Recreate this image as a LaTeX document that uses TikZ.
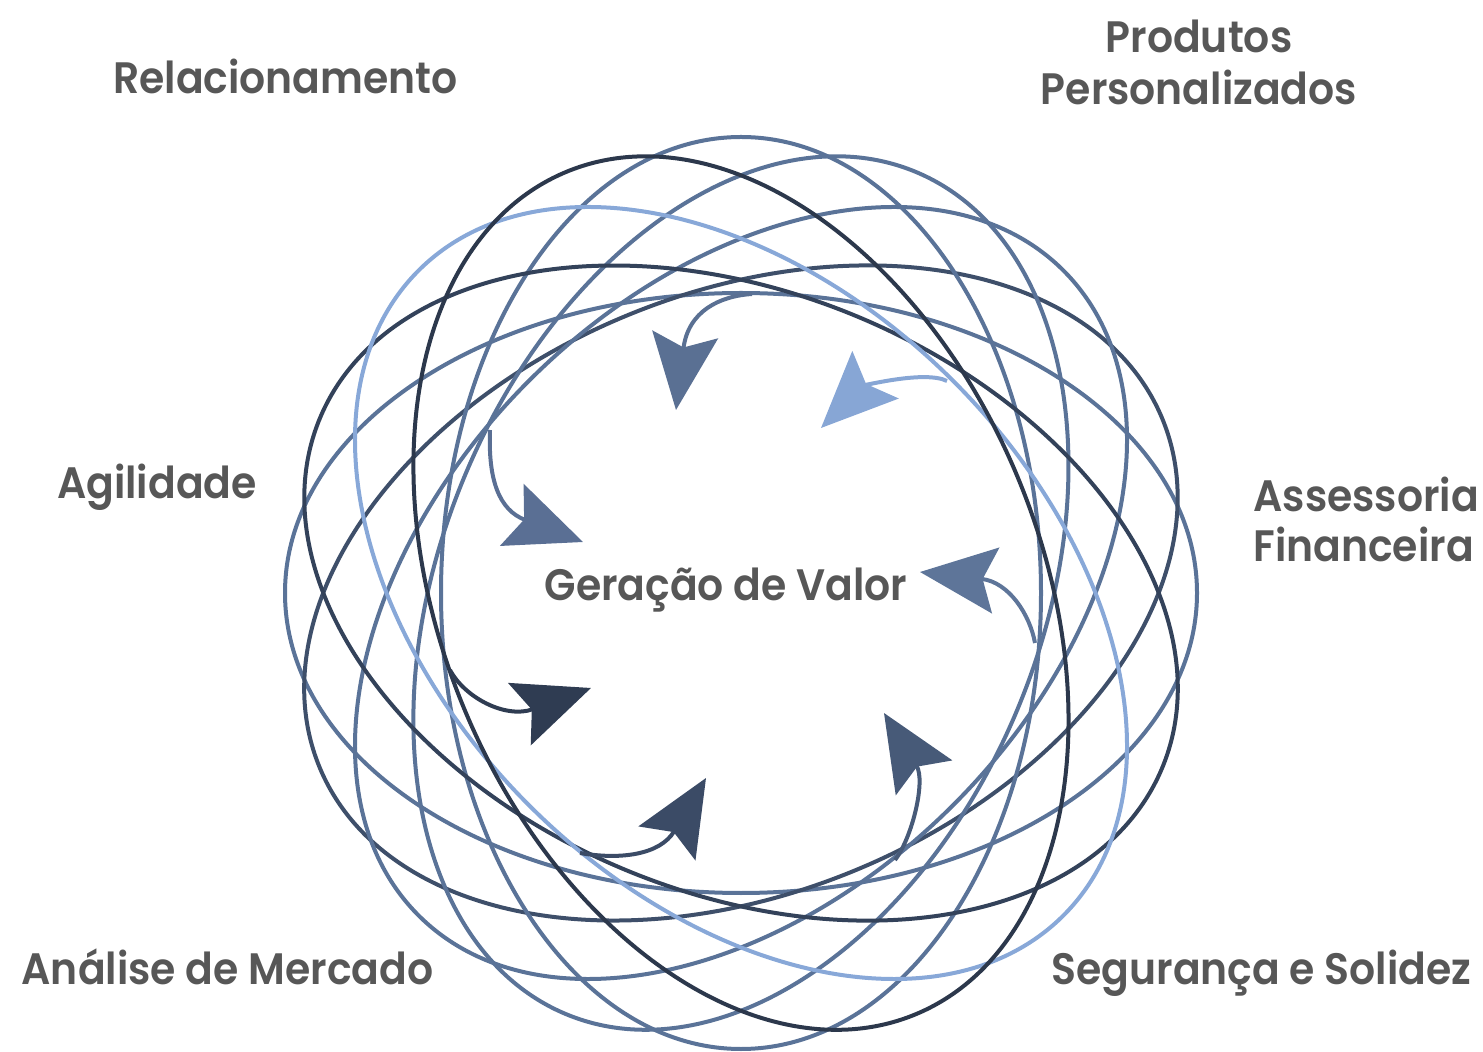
\documentclass[tikz,border=0pt]{standalone}
\usepackage{fontspec}
\newfontfamily\labfont{Poppins SemiBold}[FakeStretch=0.93]
\usetikzlibrary{arrows.meta}
\definecolor{eBlue}{HTML}{5A7398}
\definecolor{eMid}{HTML}{3E4F6A}
\definecolor{eNavy}{HTML}{2C384C}
\definecolor{eDark}{HTML}{33425A}
\definecolor{eLight}{HTML}{88A8D8}
\definecolor{aTop}{HTML}{5A7093}
\definecolor{aLight}{HTML}{87A6D5}
\definecolor{aRight}{HTML}{5E7599}
\definecolor{aLowR}{HTML}{475A78}
\definecolor{aBot}{HTML}{3B4B66}
\definecolor{aLowL}{HTML}{2F3C52}
\definecolor{aLeft}{HTML}{5A6F94}
\definecolor{txt}{HTML}{575757}
\begin{document}
\begin{tikzpicture}[x=0.5pt,y=-0.5pt,
  ring/.style={line width=2pt},
  arr/.style={line width=2pt,-{Stealth[length=38pt,width=33pt,inset=6.5pt]}},
  lab/.style={text=txt,font=\labfont\fontsize{22}{26}\selectfont,inner sep=0pt,anchor=base}]
\useasboundingbox (0,0) rectangle (1483,1052);
\coordinate (C) at (741,593);
\foreach \ang/\col in {0/eBlue,22.5/eMid,45/eBlue,67.5/eBlue,90/eBlue,157.5/eDark,135/eLight,112.5/eNavy}
  \draw[ring,draw=\col,rotate around={\ang:(C)}] (C) ellipse [x radius=456,y radius=300];
% arrows
\coordinate (s1) at (752,294); \coordinate (t1) at (676,410);
\coordinate (s2) at (947,381); \coordinate (t2) at (821,428);
\coordinate (s3) at (1035,643); \coordinate (t3) at (920,572);
\coordinate (s4) at (895,860); \coordinate (t4) at (884,713);
\coordinate (s5) at (580,853); \coordinate (t5) at (706,778);
\coordinate (s6) at (450,670); \coordinate (t6) at (591,688);
\coordinate (s7) at (490,430); \coordinate (t7) at (583,542);
\draw[arr,draw=aTop] (s1) .. controls (720,296) and (688,311) .. (t1);
\draw[arr,draw=aLight] (s2) .. controls (925,370) and (864,386) .. (t2);
\draw[arr,draw=aRight] (s3) .. controls (1030,615) and (1009,582) .. (t3);
\draw[arr,draw=aLowR] (s4) .. controls (912,838) and (926,781) .. (t4);
\draw[arr,draw=aBot] (s5) .. controls (620,860) and (660,855) .. (t5);
\draw[arr,draw=aLowL] (s6) .. controls (465,698) and (506,719) .. (t6);
\draw[arr,draw=aLeft] (s7) .. controls (488,480) and (499,510) .. (t7);
% labels
\node[lab] (rel) at (285.5,94) {Relacionamento};
\node[lab] (prod1) at (1199,53) {Produtos};
\node[lab] (prod2) at (1199,105) {Personalizados};
\node[lab] (agi) at (157,499) {Agilidade};
\node[lab,anchor=base west] (ass1) at (1253,512) {Assessoria};
\node[lab,anchor=base west] (ass2) at (1253,562) {Financeira};
\node[lab] (ger) at (726,601) {Geração de Valor};
\node[lab] (ana) at (227.5,984) {Análise de Mercado};
\node[lab] (seg) at (1261.5,984) {Segurança e Solidez};
\end{tikzpicture}
\end{document}
